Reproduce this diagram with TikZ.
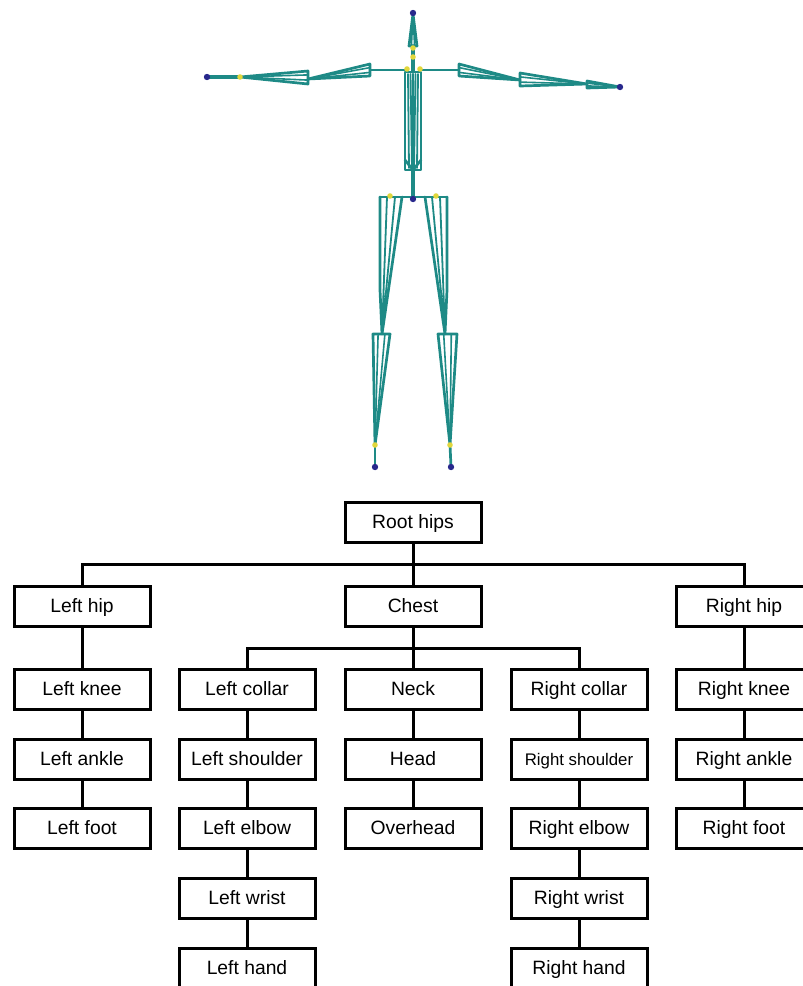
\documentclass[tikz,border=0pt]{standalone}
\usepackage{fontspec}
\setmainfont{Liberation Sans}
\usetikzlibrary{calc}
\definecolor{bonecol}{RGB}{30,138,134}
\definecolor{endcol}{RGB}{40,40,140}
\definecolor{jointcol}{RGB}{225,215,60}
\tikzset{
  bonestyle/.style={draw=bonecol, line width=2.7pt, line join=round, line cap=round},
  jointdot/.style={fill=jointcol, draw=none},
  enddot/.style={fill=endcol, draw=none},
  joint/.style={draw=black, line width=3pt, minimum width=136pt, minimum height=40pt,
    inner sep=0pt, text height=13.6pt, text depth=0pt, font=\fontsize{19.3}{22}\selectfont},
  link/.style={draw=black, line width=3pt}
}
% tapered bone: wide end from #1 to #2, narrowing to the tip #3
\newcommand\drawbone[3]{%
  \draw[bonestyle] (#1) -- (#3) -- (#2) -- cycle;
  \draw[bonestyle, line width=1.6pt] ($(#1)!0.3!(#2)$) -- (#3);
  \draw[bonestyle, line width=1.6pt] ($(#1)!0.7!(#2)$) -- (#3);
}
\begin{document}
\begin{tikzpicture}[x=1pt,y=-1pt]
\useasboundingbox (0,0) rectangle (803,986);

% ---------- skeleton ----------
% head and neck
\drawbone{409,46}{417,46}{413,14}
\draw[bonestyle, line width=3.4pt] (413,46) -- (413,72);
% torso
\draw[bonestyle] (405,72) rectangle (421,170);
\draw[bonestyle, line width=1.8pt] (408,74) -- (409,168) (418,74) -- (417,168) (410.5,74) -- (412,168)
  (415.5,74) -- (414,168) (413,74) -- (413,168);
\draw[bonestyle] (405,160) -- (413,170) -- (421,160);
\draw[bonestyle, line width=3.4pt] (413,170) -- (413,196);
% collars
\draw[bonestyle] (407,70) -- (370,70);
\draw[bonestyle] (420,70) -- (459,70);
% left arm
\drawbone{370,64}{370,76}{308,79}
\drawbone{308,71}{308,84}{240,77}
\draw[bonestyle, line width=3.4pt] (240,77) -- (207,77);
% right arm
\drawbone{459,64}{459,76}{520,80}
\drawbone{520,73}{520,86}{587,84}
\drawbone{587,81}{587,88}{620,87}
% hips
\draw[bonestyle] (380,197) -- (447,197);
% left leg
\draw[bonestyle] (380,197) -- (380,290) -- (382,334) -- (402,197);
\draw[bonestyle, line width=1.8pt] (387,197) -- (382,334) (395,197) -- (382,334);
\draw[bonestyle] (373,334) -- (390,334);
\drawbone{373,334}{390,334}{375,445}
\draw[bonestyle] (375,445) -- (375,467);
% right leg
\draw[bonestyle] (447,197) -- (447,290) -- (445,334) -- (425,197);
\draw[bonestyle, line width=1.8pt] (440,197) -- (445,334) (432,197) -- (445,334);
\drawbone{438,334}{457,334}{450,445}
\draw[bonestyle] (450,445) -- (451,467);
% joint markers
\foreach \p in {{413,48},{413,57},{407,69},{420,69},{240,77},{390,196},{436,196},{375,445},{450,445}}
  \fill[jointdot] (\p) circle (2.8);
\foreach \p in {{413,13},{207,77},{620,87},{375,467},{451,467},{413,199}}
  \fill[enddot] (\p) circle (3.2);

% ---------- hierarchy ----------
\node[joint] (root) at (413,522) {Root hips};

\node[joint] (lhip)  at (82,606)  {Left hip};
\node[joint] (chest) at (413,606) {Chest};
\node[joint] (rhip)  at (744,606) {Right hip};

\node[joint] (lknee)   at (82,689)  {Left knee};
\node[joint] (lcollar) at (247,689) {Left collar};
\node[joint] (neck)    at (413,689) {Neck};
\node[joint] (rcollar) at (579,689) {Right collar};
\node[joint] (rknee)   at (744,689) {Right knee};

\node[joint] (lankle)    at (82,759)  {Left ankle};
\node[joint] (lshoulder) at (247,759) {Left shoulder};
\node[joint] (head)      at (413,759) {Head};
\node[joint, font=\fontsize{16.8}{20}\selectfont, text height=12pt] (rshoulder) at (579,759) {Right shoulder};
\node[joint] (rankle)    at (744,759) {Right ankle};

\node[joint] (lfoot)     at (82,828)  {Left foot};
\node[joint] (lelbow)    at (247,828) {Left elbow};
\node[joint] (overhead)  at (413,828) {Overhead};
\node[joint] (relbow)    at (579,828) {Right elbow};
\node[joint] (rfoot)     at (744,828) {Right foot};

\node[joint] (lwrist) at (247,898) {Left wrist};
\node[joint] (rwrist) at (579,898) {Right wrist};

\node[joint] (lhand) at (247,968) {Left hand};
\node[joint] (rhand) at (579,968) {Right hand};

% branching bars
\coordinate (rootbar) at (413,564);
\coordinate (chestbar) at (413,648);
\draw[link] (root) -- (rootbar);
\draw[link] (lhip.north) |- (rootbar) -| (rhip.north);
\draw[link] (rootbar) -- (chest);
\draw[link] (chest) -- (chestbar);
\draw[link] (lcollar.north) |- (chestbar) -| (rcollar.north);
\draw[link] (chestbar) -- (neck);

% chains
\draw[link] (lhip) -- (lknee) (lknee) -- (lankle) (lankle) -- (lfoot);
\draw[link] (rhip) -- (rknee) (rknee) -- (rankle) (rankle) -- (rfoot);
\draw[link] (lcollar) -- (lshoulder) (lshoulder) -- (lelbow) (lelbow) -- (lwrist) (lwrist) -- (lhand);
\draw[link] (rcollar) -- (rshoulder) (rshoulder) -- (relbow) (relbow) -- (rwrist) (rwrist) -- (rhand);
\draw[link] (neck) -- (head) (head) -- (overhead);
\end{tikzpicture}
\end{document}
